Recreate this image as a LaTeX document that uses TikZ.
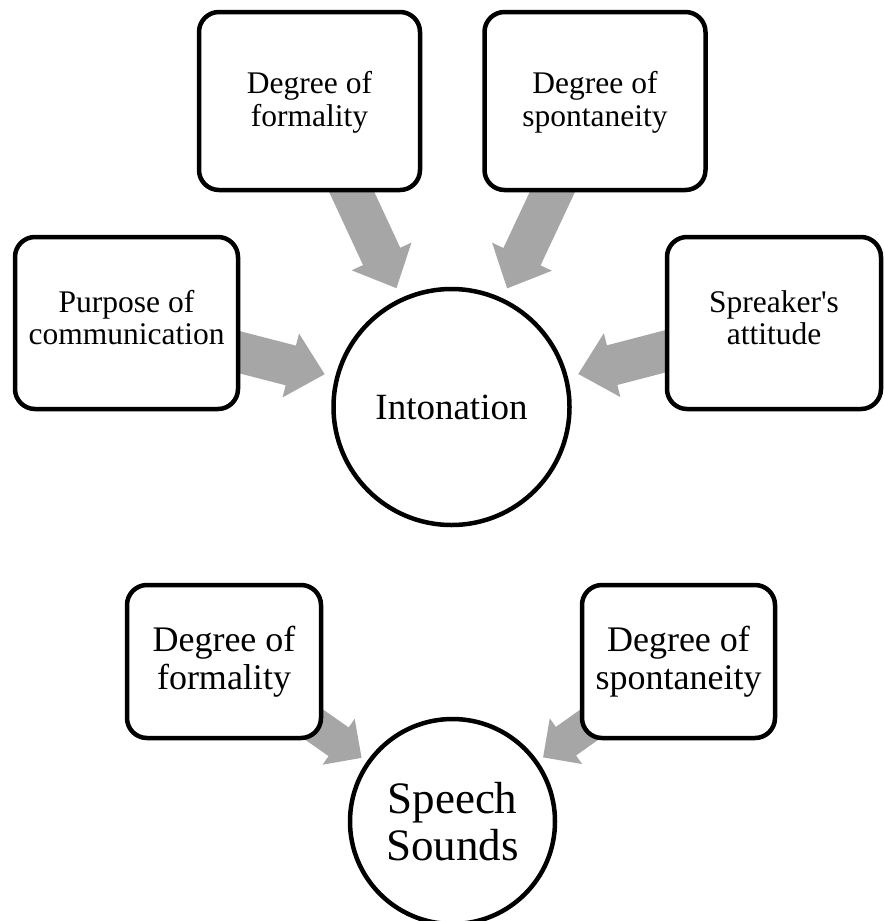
\documentclass[tikz,border=0pt]{standalone}
\usepackage{fontspec}
\setmainfont{Liberation Serif}
\usetikzlibrary{calc,backgrounds}
\definecolor{arrowgray}{RGB}{166,166,166}

% Block arrow from the centre of node #1 towards the centre of node #2.
% #3: distance of the tip from the centre of #2, #4: half shaft width,
% #5: half head width, #6: head length.
\newcommand{\blockarrow}[6]{%
  \coordinate (ba-t) at ($(#2.center)!#3!(#1.center)$);
  \coordinate (ba-h) at ($(ba-t)!#6!(#1.center)$);
  \fill[arrowgray]
    ($(#1.center)!#4!90:(#2.center)$) --
    ($(ba-h)!#4!-90:(#1.center)$) --
    ($(ba-h)!#5!-90:(#1.center)$) --
    (ba-t) --
    ($(ba-h)!#5!90:(#1.center)$) --
    ($(ba-h)!#4!90:(#1.center)$) --
    ($(#1.center)!#4!-90:(#2.center)$) -- cycle;
}

\tikzset{
  factor/.style={draw=black, line width=4.5pt, rounded corners=20pt,
    fill=white, align=center, inner sep=0pt},
  topfactor/.style={factor, font=\fontsize{31.5}{32.5}\selectfont},
  lowfactor/.style={factor, font=\fontsize{36}{37.5}\selectfont},
  hub/.style={circle, draw=black, line width=4.5pt, fill=white,
    align=center, inner sep=0pt},
}

\begin{document}
\begin{tikzpicture}[x=1pt, y=-1pt]
  \useasboundingbox (0,0) rectangle (884,921);

  % Intonation and the factors acting on it
  \node[hub, minimum size=236pt, font=\fontsize{37}{38}\selectfont]
    (inton) at (451.5,407) {Intonation};
  \node[topfactor, minimum width=221pt, minimum height=178pt, text depth=4pt]
    (form1) at (309.5,101) {Degree of\\formality};
  \node[topfactor, minimum width=221pt, minimum height=178pt, text depth=4pt]
    (spon1) at (595,101) {Degree of\\spontaneity};
  \node[topfactor, minimum width=223pt, minimum height=172pt, text depth=11pt]
    (purp) at (126.5,323) {Purpose of\\communication};
  \node[topfactor, minimum width=214pt, minimum height=172pt, text depth=11pt]
    (spk) at (774,323) {Spreaker\textquotesingle s\\attitude};

  % Speech sounds and the factors acting on them
  \node[hub, minimum size=205pt, font=\fontsize{45}{46.5}\selectfont]
    (speech) at (452.5,821.5) {Speech\\Sounds};
  \node[lowfactor, minimum width=194pt, minimum height=153pt]
    (form2) at (224,661.5) {Degree of\\formality};
  \node[lowfactor, minimum width=193pt, minimum height=153pt]
    (spon2) at (678.5,661.5) {Degree of\\spontaneity};

  \begin{scope}[on background layer]
    \blockarrow{purp}{inton}{131pt}{20.5pt}{33pt}{35pt}
    \blockarrow{form1}{inton}{131pt}{20.5pt}{33pt}{35pt}
    \blockarrow{spon1}{inton}{131pt}{20.5pt}{33pt}{35pt}
    \blockarrow{spk}{inton}{131pt}{20.5pt}{33pt}{35pt}
    \blockarrow{form2}{speech}{111pt}{17.5pt}{28pt}{28pt}
    \blockarrow{spon2}{speech}{111pt}{17.5pt}{28pt}{28pt}
  \end{scope}
\end{tikzpicture}
\end{document}
